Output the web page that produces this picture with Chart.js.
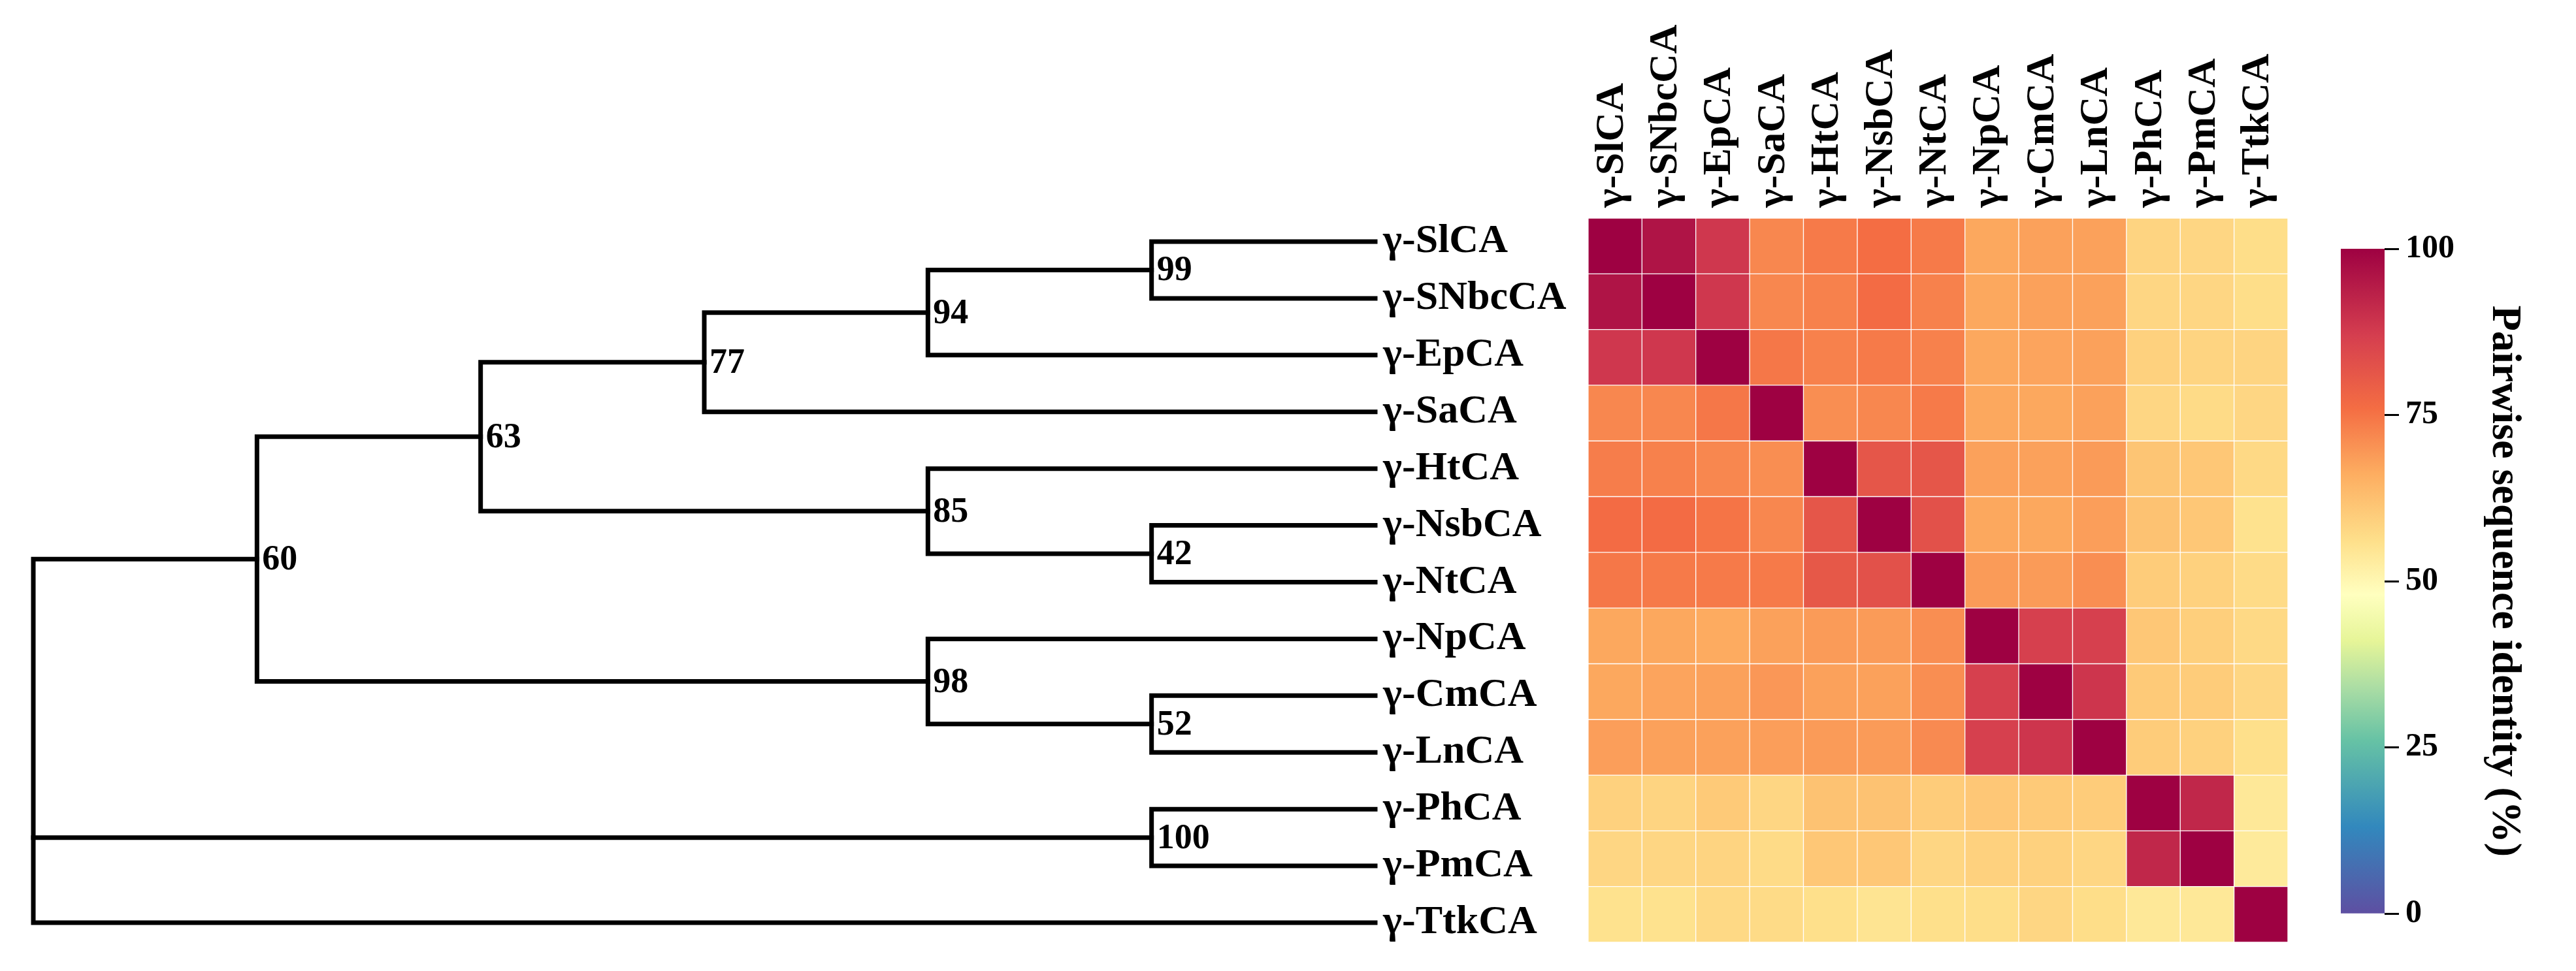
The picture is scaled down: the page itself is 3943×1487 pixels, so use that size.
<!DOCTYPE html>
<html><head><meta charset="utf-8">
<script src="https://cdn.jsdelivr.net/npm/chart.js@4"></script>
<style>
html,body{margin:0;padding:0;background:#fff;}
#wrap{position:relative;width:3943px;height:1487px;overflow:hidden;background:#fff;}
canvas{position:absolute;top:0;}
</style></head><body>
<div id="wrap">
<canvas id="tree" width="2420" height="1487" style="left:0px"></canvas>
<canvas id="heat" width="1160" height="1487" style="left:2380px"></canvas>
<canvas id="cbar" width="403" height="1487" style="left:3540px"></canvas>
</div>
<script>
// ---------------- data ----------------
const taxa = ['γ-SlCA','γ-SNbcCA','γ-EpCA','γ-SaCA','γ-HtCA','γ-NsbCA','γ-NtCA','γ-NpCA','γ-CmCA','γ-LnCA','γ-PhCA','γ-PmCA','γ-TtkCA'];

const identity = [
  [100, 96, 88.5, 72, 74, 76, 74, 67, 68, 68, 58.5, 58, 56.5],
  [96, 100, 88.5, 72, 73, 76.5, 73, 67, 68, 68, 58, 58, 56.5],
  [88.5, 88.5, 100, 74.5, 73, 74, 73, 67, 67.5, 68, 59, 58.5, 58.5],
  [72, 72, 74.5, 100, 71, 72, 74, 67, 67, 68, 58, 57, 58],
  [73.5, 73, 72, 71, 100, 81.5, 81.5, 68, 68, 69, 61.5, 61, 57.5],
  [76.5, 76.5, 75, 72, 81.5, 100, 82.5, 67, 67, 68.5, 62, 61, 55.5],
  [74.5, 74, 74, 74, 81, 82.5, 100, 69, 69, 71, 60, 59, 57],
  [67, 67, 66.5, 68, 69, 69, 71, 100, 86.5, 86.5, 61, 59.5, 57.5],
  [67, 67.5, 68, 69.5, 68, 68, 71, 86.5, 100, 89, 60.5, 60, 58],
  [68.5, 68, 68, 68.5, 69, 69, 71.5, 86.5, 89, 100, 60, 59, 56],
  [59, 58.5, 60.5, 58, 62, 62, 60, 61, 60.5, 60, 100, 92, 54],
  [58, 58, 58.5, 57, 61, 61, 58, 59, 59, 58, 92, 100, 53.5],
  [55.5, 55.5, 57.5, 57, 56, 55, 56, 56.5, 58, 56.5, 54, 54, 100]
];

const colorbarTicks = [0, 25, 50, 75, 100];
const colorbarTitle = 'Pairwise sequence identity (%)';

// cladogram: d = depth rank, s = bootstrap support, c = children
const leafDepth = 6;
const treeTopology = {d:0, s:null, c:[
  {d:1, s:60, c:[
    {d:2, s:63, c:[
      {d:3, s:77, c:[
        {d:4, s:94, c:[ {d:5, s:99, c:['γ-SlCA','γ-SNbcCA']}, 'γ-EpCA' ]},
        'γ-SaCA'
      ]},
      {d:4, s:85, c:[ 'γ-HtCA', {d:5, s:42, c:['γ-NsbCA','γ-NtCA']} ]}
    ]},
    {d:4, s:98, c:[ 'γ-NpCA', {d:5, s:52, c:['γ-CmCA','γ-LnCA']} ]}
  ]},
  {d:5, s:100, c:['γ-PhCA','γ-PmCA']},
  'γ-TtkCA'
]};

// Spectral colours (reversed) and the colour-bar values where each colour sits
const spectralStops = ['#9e0142','#d53e4f','#f46d43','#fdae61','#fee08b','#ffffbf','#e6f598','#abdda4','#66c2a5','#3288bd','#5e4fa2'];
const stopValues    = [100, 87, 76, 66, 56, 48, 41, 34, 26, 13, 0];

// ---------------- helpers ----------------
function hex2rgb(h){return [parseInt(h.slice(1,3),16),parseInt(h.slice(3,5),16),parseInt(h.slice(5,7),16)];}
function spectral(v){
  v = Math.max(0, Math.min(100, v));
  let i = 0;
  while (i < stopValues.length - 2 && v < stopValues[i+1]) i++;
  const t = (stopValues[i] - v) / (stopValues[i] - stopValues[i+1]);
  const a = hex2rgb(spectralStops[i]), b = hex2rgb(spectralStops[i+1]);
  const c = a.map((x,k)=>Math.round(x + (b[k]-x)*t));
  return `rgb(${c[0]},${c[1]},${c[2]})`;
}

Chart.defaults.font.family = "'Liberation Serif', 'Times New Roman', serif";
Chart.defaults.color = '#000';

// ---------------- tree ----------------
const treeDatasets = [];
const supportLabels = [];
function layout(node){
  if (typeof node === 'string') return {x: leafDepth, y: taxa.indexOf(node)};
  const kids = node.c.map(layout);
  const first = kids[0], last = kids[kids.length-1];
  const y = (first.y + last.y) / 2;
  const line = {borderColor:'#000', borderWidth:7, pointRadius:0, showLine:true, fill:false,
                borderCapStyle:'square', borderJoinStyle:'miter', clip:false, tension:0};
  treeDatasets.push(Object.assign({data:[
    {x:first.x, y:first.y}, {x:node.d, y:first.y}, {x:node.d, y:last.y}, {x:last.x, y:last.y}
  ]}, line));
  for (let k = 1; k < kids.length - 1; k++) {
    treeDatasets.push(Object.assign({data:[{x:node.d, y:kids[k].y}, {x:kids[k].x, y:kids[k].y}]}, line));
  }
  if (node.s !== null) supportLabels.push({x:node.d, y, s:node.s});
  return {x: node.d, y};
}
layout(treeTopology);

const supportPlugin = {
  id: 'support',
  afterDatasetsDraw(chart){
    const {ctx, scales:{x, y}} = chart;
    ctx.save();
    ctx.font = "bold 54px 'Liberation Serif'";
    ctx.fillStyle = '#000';
    ctx.textAlign = 'left';
    ctx.textBaseline = 'middle';
    supportLabels.forEach(l => ctx.fillText(String(l.s), x.getPixelForValue(l.x) + 8, y.getPixelForValue(l.y) + 2));
    ctx.restore();
  }
};

new Chart(document.getElementById('tree'), {
  type: 'scatter',
  data: {datasets: treeDatasets},
  options: {
    responsive:false, devicePixelRatio:1, animation:false, events:[],
    layout:{padding:{left:51, right:0, top:370, bottom:74}},
    plugins:{legend:{display:false}, tooltip:{enabled:false}},
    scales:{
      x:{type:'linear', min:0, max:leafDepth, display:false},
      y:{type:'linear', min:0, max:taxa.length-1, reverse:true, position:'right',
         afterBuildTicks(s){ s.ticks = taxa.map((_,i)=>({value:i})); },
         afterFit(s){ s.width = 315; },
         ticks:{callback:(v)=>taxa[v], font:{size:62, weight:'bold'}, color:'#000', padding:12, autoSkip:false},
         grid:{display:false, drawTicks:false}, border:{display:false}}
    }
  },
  plugins:[supportPlugin]
});

// ---------------- heatmap ----------------
new Chart(document.getElementById('heat'), {
  type: 'bar',
  data: {
    labels: taxa,
    datasets: identity.map((row, r) => ({
      data: row.map(() => [r, r + 1]),
      backgroundColor: row.map(v => spectral(v)),
      borderColor: 'rgba(255,255,255,0.28)',
      borderWidth: 1,
      borderSkipped: false,
      barPercentage: 1, categoryPercentage: 1, grouped: false
    }))
  },
  options: {
    responsive:false, devicePixelRatio:1, animation:false, events:[],
    layout:{padding:{left:44, right:38, top:0, bottom:44}},
    plugins:{legend:{display:false}, tooltip:{enabled:false}},
    scales:{
      x:{position:'top', offset:true,
         afterFit(s){ s.height = 334; },
         ticks:{autoSkip:false, minRotation:90, maxRotation:90, padding:16, color:'#000',
                labelOffset:70, font:{size:62, weight:'bold', lineHeight:1.2}},
         grid:{display:false, drawTicks:false}, border:{display:false}},
      y:{min:0, max:taxa.length, reverse:true, display:false}
    }
  }
});

// ---------------- colorbar ----------------
new Chart(document.getElementById('cbar'), {
  type: 'bar',
  data: {
    labels: [''],
    datasets: [{
      data: [[colorbarTicks[0], colorbarTicks[colorbarTicks.length-1]]],
      backgroundColor(ctx){
        const chart = ctx.chart; const ys = chart.scales.y;
        if (!chart.chartArea || !ys) return spectralStops[0];
        const y0 = ys.getPixelForValue(100), y1 = ys.getPixelForValue(0);
        const g = chart.ctx.createLinearGradient(0, y0, 0, y1);
        spectralStops.forEach((c, i) => g.addColorStop((ys.getPixelForValue(stopValues[i]) - y0) / (y1 - y0), c));
        return g;
      },
      borderWidth: 0, barPercentage: 1, categoryPercentage: 1
    }]
  },
  options: {
    responsive:false, devicePixelRatio:1, animation:false, events:[],
    layout:{padding:{left:43, right:72, top:381, bottom:88}},
    plugins:{legend:{display:false}, tooltip:{enabled:false}},
    scales:{
      x:{display:false},
      y:{position:'right', min:0, max:100,
         afterBuildTicks(s){ s.ticks = colorbarTicks.map(v=>({value:v})); },
         afterFit(s){ s.width = 221; },
         ticks:{font:{size:50, weight:'bold'}, color:'#000', padding:10},
         grid:{drawOnChartArea:false, drawTicks:true, tickLength:22, tickWidth:3, tickColor:'#000'},
         border:{display:false},
         title:{display:true, text:colorbarTitle, color:'#000', padding:0,
                font:{size:64, weight:'bold'}}}
    }
  }
});
</script>
</body></html>
